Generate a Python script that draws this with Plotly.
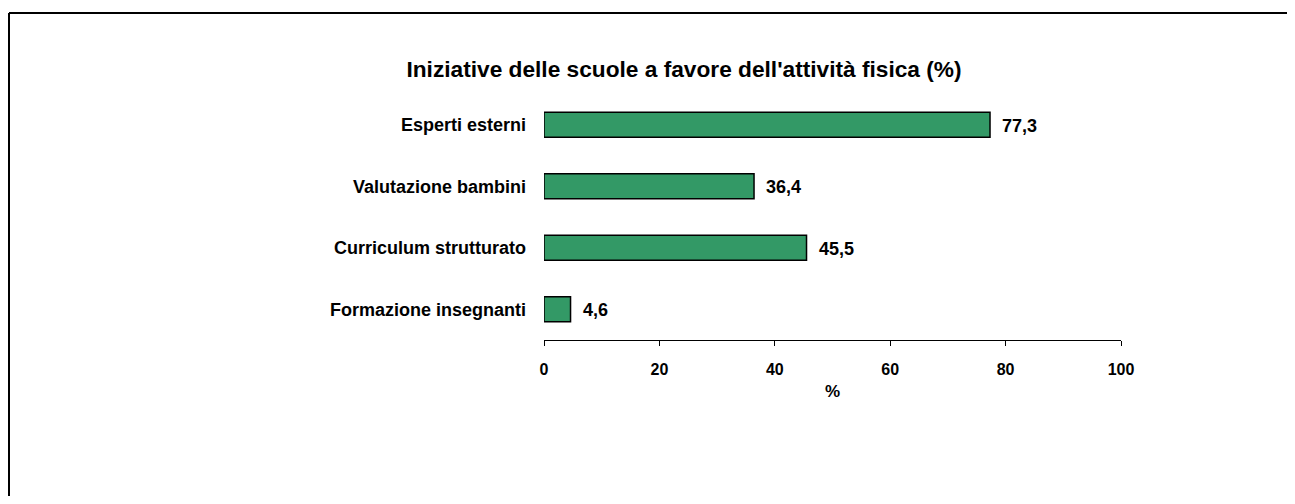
import plotly.graph_objects as go

categories = ["Formazione insegnanti", "Curriculum strutturato", "Valutazione bambini", "Esperti esterni"]
values = [4.6, 45.5, 36.4, 77.3]
tick_vals = [0, 20, 40, 60, 80, 100]
title_text = "Iniziative delle scuole a favore dell'attività fisica (%)"
x_title = "%"

FONT = "Liberation Sans, Arial, sans-serif"

# page body has an 8px margin; figure coordinates = page - 8
W, H = 1279, 488
L, R, T, B = 536, 166, 86, 156
PW, PH = W - L - R, H - T - B

fig = go.Figure(go.Bar(
    y=categories,
    x=values,
    orientation="h",
    marker=dict(color="#339966", line=dict(color="black", width=1.5)),
))

for c, v in zip(categories, values):
    fig.add_annotation(x=v, y=c, xref="x", yref="y", text=f"<b>{v:.1f}</b>".replace(".", ","),
                       showarrow=False, xanchor="left", yanchor="middle", xshift=10, yshift=-1,
                       font=dict(family=FONT, size=18, color="black"))

fig.update_layout(
    width=W, height=H,
    margin=dict(l=L, r=R, t=T, b=B),
    paper_bgcolor="white", plot_bgcolor="white",
    bargap=0.59,
    showlegend=False,
    font=dict(family=FONT, size=16, color="black"),
    title=dict(text=f"<b>{title_text}</b>", x=676 / W, xref="container", xanchor="center",
               y=1 - 61 / H, yref="container", yanchor="middle",
               font=dict(family=FONT, size=22.7, color="black")),
    xaxis=dict(range=[0, 100], tickvals=tick_vals, ticktext=[f"<b>{t}</b>" for t in tick_vals],
               showgrid=False, zeroline=False, showline=True, linecolor="black", linewidth=1,
               ticks="outside", ticklen=5, tickcolor="black", tickwidth=1,
               tickfont=dict(family=FONT, size=16, color="black"),
               ticklabelstandoff=10,
               title=dict(text=f"<b>{x_title}</b>", standoff=7, font=dict(family=FONT, size=17, color="black"))),
    yaxis=dict(showgrid=False, zeroline=False, showline=False, ticks="",
               tickfont=dict(family=FONT, size=18, color="black"),
               ticklabelstandoff=17),
)
fig.update_yaxes(ticktext=[f"<b>{c}</b>" for c in categories], tickvals=categories)

# outer frame: only top and left edges fall inside the visible page
x_left = (1 - L) / PW
x_right = (W - L) / PW
y_top = (PH + T - 5) / PH
y_bottom = -B / PH
fig.add_shape(type="line", xref="paper", yref="paper", x0=x_left, x1=x_left, y0=y_bottom, y1=y_top,
              line=dict(color="black", width=2), layer="above")
fig.add_shape(type="line", xref="paper", yref="paper", x0=x_left, x1=x_right, y0=y_top, y1=y_top,
              line=dict(color="black", width=2), layer="above")

fig.write_html("out.html")
